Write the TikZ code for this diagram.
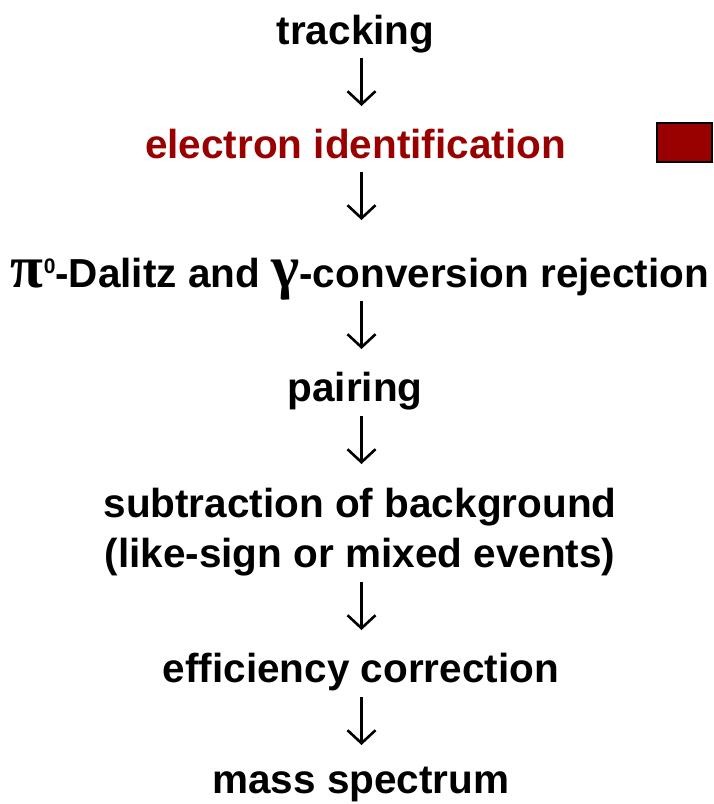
\documentclass[tikz,border=0pt]{standalone}
\usepackage{fontspec}
\setmainfont{Liberation Sans}
\newfontfamily\grkfont{Liberation Serif}
\usetikzlibrary{arrows.meta}
\definecolor{darkred}{HTML}{990000}
\begin{document}
\begin{tikzpicture}[x=1pt,y=-1pt,
  lbl/.style={inner sep=0pt, font=\bfseries\fontsize{40.5}{50}\selectfont, anchor=base},
  flow/.style={line width=2.6pt, -{Straight Barb[length=13pt,width=28pt]}}]
\useasboundingbox (0,0) rectangle (713,804);
\coordinate (ax) at (361.5,0);
\node[lbl] (n1) at (355.5,44) {tracking};
\node[lbl, text=darkred] (n2) at (355.5,158.5) {electron identification};
\node[lbl] (n3) at (360,287) {{\grkfont\fontsize{60}{60}\selectfont π}\raisebox{14pt}{\fontsize{21}{21}\selectfont 0}-Dalitz and {\grkfont\fontsize{60}{60}\selectfont γ}-conversion rejection};
\node[lbl] (n4) at (355,401) {pairing};
\node[lbl, align=center, anchor=north] (n5) at (360,488) {subtraction of background\\(like-sign or mixed events)};
\node[lbl] (n6) at (361,682) {efficiency correction};
\node[lbl] (n7) at (361,793) {mass spectrum};
\draw[fill=darkred, line width=2.3pt] (657.2,123.2) rectangle (711.8,161.8);
\draw[flow, shorten <=14pt, shorten >=52.5pt] (n1.base -| ax) -- (n2.base -| ax);
\draw[flow, shorten <=13.5pt, shorten >=67pt] (n2.base -| ax) -- (n3.base -| ax);
\draw[flow, shorten <=14pt, shorten >=52pt] (n3.base -| ax) -- (n4.base -| ax);
\draw[flow, shorten <=15pt, shorten >=24pt] (n4.base -| ax) -- (n5.north -| ax);
\draw[flow, shorten <=5.5pt, shorten >=52pt] (n5.south -| ax) -- (n6.base -| ax);
\draw[flow, shorten <=15pt, shorten >=48pt] (n6.base -| ax) -- (n7.base -| ax);
\end{tikzpicture}
\end{document}
